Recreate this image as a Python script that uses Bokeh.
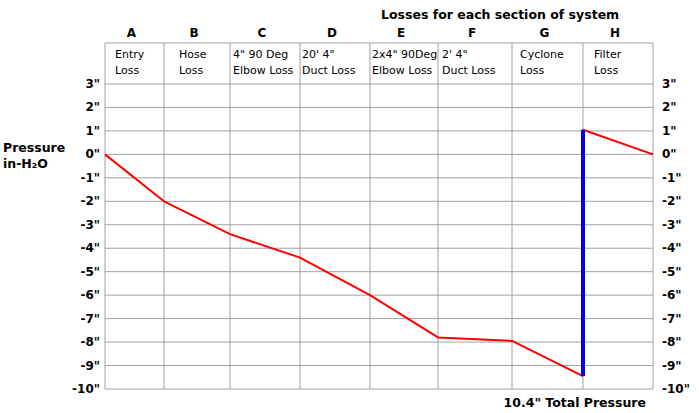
from bokeh.plotting import figure
from bokeh.models import Range1d, ColumnDataSource
from bokeh.core.properties import value
from bokeh.embed import file_html
from bokeh.resources import INLINE

# sections of the system, in order from the hose entry to the filter
sections = ["A", "B", "C", "D", "E", "F", "G", "H"]
section_line1 = ["Entry", "Hose", '4" 90 Deg', "20' 4\"", '2x4" 90Deg', "2' 4\"", "Cyclone", "Filter"]
section_line2 = ["Loss", "Loss", "Elbow Loss", "Duct Loss", "Elbow Loss", "Duct Loss", "Loss", "Loss"]
section_widths = [59, 66, 70, 70, 68, 74, 71, 70]

# pressure (in-H2O) at the start of each section
pressure_start = [0.0, -2.0, -3.4, -4.4, -6.0, -7.8, -7.95, -9.45]
filter_top = 1.05
pressure_end = 0.0
total_pressure = "10.4"

y_ticks = list(range(-10, 4))
y_labels = ['%d"' % t for t in y_ticks]

FONT = "DejaVu Sans"
GRID = "#a0a0a0"
PX = 305 / 13.0          # pixels per inch of water on screen
HEADER_TOP = 3 + 41 / PX  # top edge of the header row

# section edges
edges = [0]
for w in section_widths:
    edges.append(edges[-1] + w)
centers = [(edges[i] + edges[i + 1]) / 2 - 3 for i in range(len(sections))]

# the frame fills the whole page; x is in pixels from the left edge of section A
p = figure(width=699, height=413, title=None,
           x_range=Range1d(-104.5, 594.5), y_range=Range1d(3 - 329.5 / PX, 3 + 83.5 / PX),
           x_axis_location=None, y_axis_location=None,
           output_backend="svg", toolbar_location=None, tools="",
           min_border=0)
p.background_fill_color = "white"
p.border_fill_color = "white"
p.outline_line_color = None
p.grid.visible = False

# grid: section edges and inch lines, plus the header box top
p.segment(x0=edges, y0=[-10] * len(edges), x1=edges, y1=[HEADER_TOP] * len(edges),
          line_color=GRID, line_width=1)
p.segment(x0=[0] * (len(y_ticks) + 1), y0=y_ticks + [HEADER_TOP],
          x1=[edges[-1]] * (len(y_ticks) + 1), y1=y_ticks + [HEADER_TOP],
          line_color=GRID, line_width=1)

bold = dict(text_font=value(FONT), text_font_style="bold", text_color="black",
            text_baseline="middle")

# inch labels on both sides
p.text(x=[-5] * len(y_ticks), y=y_ticks, text=y_labels, text_align="right",
       text_font_size="12px", **bold)
p.text(x=[edges[-1] + 9] * len(y_ticks), y=y_ticks, text=y_labels, text_align="left",
       text_font_size="12px", **bold)

# letters above each section
p.text(x=centers, y=[3 + 51.5 / PX] * len(sections), text=sections, text_align="center",
       text_font_size="12px", **bold)

# names written in the header row
indent = [10, 15, 3, 2, 2, 4, 8, 11]
src = ColumnDataSource(dict(x=[e + d for e, d in zip(edges[:-1], indent)],
                            t1=section_line1, t2=section_line2))
for col, yy in (("t1", 3 + 29.7 / PX), ("t2", 3 + 13.8 / PX)):
    p.text(x="x", y=yy, text=col, source=src, text_font=value(FONT), text_font_size="11px",
           text_color="black", text_baseline="middle", text_align="left")

# pressure line
p.line(edges[:len(pressure_start)], pressure_start, line_color="red", line_width=2)
p.line([edges[-2], edges[-1]], [filter_top, pressure_end], line_color="red", line_width=2)
# jump across the filter
p.line([edges[-2], edges[-2]], [pressure_start[-1], filter_top], line_color="#0000ee", line_width=4)

# titles outside the grid
p.text(x=[276], y=[3 + 70 / PX], text=["Losses for each section of system"],
       text_font_size="12.5px", **bold)
p.text(x=[-102, -102], y=[3 - 63.3 / PX, 3 - 79.5 / PX], text=["Pressure", "in-H\u2082O"],
       text_font_size="12.5px", **bold)
p.text(x=[541], y=[3 - 318.7 / PX], text=[total_pressure + '" Total Pressure'],
       text_align="right", text_font_size="12.5px", **bold)

open("out.html", "w").write(file_html(p, INLINE))
